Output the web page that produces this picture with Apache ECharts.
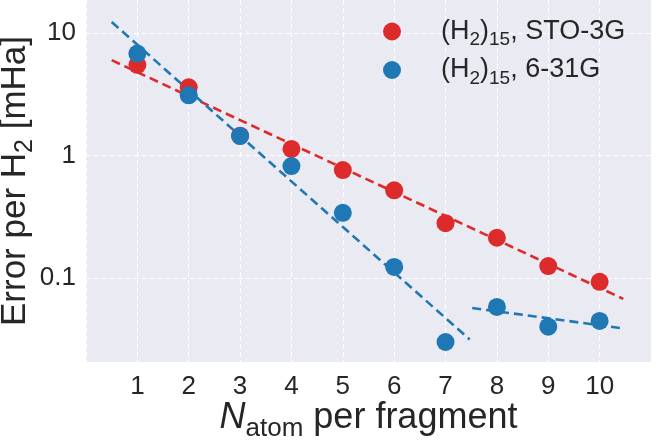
<!DOCTYPE html>
<html>
<head>
<meta charset="utf-8">
<script src="https://cdn.jsdelivr.net/npm/echarts@6/dist/echarts.min.js"></script>
<style>
html,body{margin:0;padding:0;background:#fff;}
#chart{width:658px;height:444px;}
</style>
</head>
<body>
<div id="chart"></div>
<script>
// Data
const nAtom = [1, 2, 3, 4, 5, 6, 7, 8, 9, 10];
const stoValues = [5.5, 3.6, 1.45, 1.13, 0.76, 0.52, 0.28, 0.213, 0.125, 0.093];
const g631Values = [6.8, 3.1, 1.44, 0.82, 0.34, 0.123, 0.030, 0.058, 0.040, 0.0446];
// Fitted dashed lines (endpoints, straight in log space)
const stoFitX = [0.5, 10.46];
const stoFitY = [6.0, 0.0675];
const g631FitAX = [0.5, 7.47];
const g631FitAY = [12.3, 0.0315];
const g631FitBX = [7.52, 10.48];
const g631FitBY = [0.0569, 0.0386];
const xTickLabels = ['1','2','3','4','5','6','7','8','9','10'];
const yTickLabels = ['0.1','1','10'];

const RED = '#dd2a2b';
const BLUE = '#1f77b4';
const TXT = '#262626';
const FONT = '"Liberation Sans", Arial, Helvetica, sans-serif';

function pairs(xs, ys) { return xs.map((x, i) => [x, ys[i]]); }

const chart = echarts.init(document.getElementById('chart'), null, {renderer: 'canvas'});

const option = {
  backgroundColor: '#ffffff',
  animation: false,
  textStyle: {fontFamily: FONT, color: TXT},
  grid: {
    left: 86, right: 7, top: 0, bottom: 82,
    containLabel: false, outerBoundsMode: 'none',
    show: true, backgroundColor: '#eaeaf2', borderWidth: 0
  },
  legend: {
    orient: 'vertical',
    left: 378, top: 13,
    itemWidth: 88, itemHeight: 18, itemGap: 7,
    icon: 'circle',
    data: ['STO-3G', '6-31G'],
    formatter: function (n) { return '{m|(H}{s|2}{m|)}{s|15}{m|, ' + n + '}'; },
    textStyle: {
      fontFamily: FONT, color: TXT, padding: [0,0,0,0],
      rich: {
        m: {fontSize: 27, lineHeight: 28, verticalAlign: 'middle', fontFamily: FONT, color: TXT},
        s: {fontSize: 19, lineHeight: 28, verticalAlign: 'bottom', padding: [0,0,-4,0], fontFamily: FONT, color: TXT}
      }
    }
  },
  xAxis: {
    type: 'value', min: 0, max: 11, interval: 1,
    axisLine: {show: false}, axisTick: {show: false},
    splitLine: {show: true, lineStyle: {color: '#ffffff', width: 1, type: [5, 3]}},
    axisLabel: {
      fontSize: 26, color: TXT, fontFamily: FONT, margin: 12,
      formatter: function (v) { return (v >= 1 && v <= 10) ? xTickLabels[v - 1] : ''; }
    },
    name: '{i|N}{s|atom}{m| per fragment}',
    nameLocation: 'middle', nameGap: 37, nameMoveOverlap: false,
    nameTextStyle: {
      rich: {
        i: {fontSize: 36, fontStyle: 'italic', lineHeight: 38, verticalAlign: 'middle', fontFamily: FONT, color: TXT},
        s: {fontSize: 26, lineHeight: 38, verticalAlign: 'bottom', padding: [0,0,-5,0], fontFamily: FONT, color: TXT},
        m: {fontSize: 36, lineHeight: 38, verticalAlign: 'middle', fontFamily: FONT, color: TXT}
      }
    }
  },
  yAxis: {
    type: 'log', logBase: 10, min: 0.0206, max: 18.6,
    axisLine: {show: false}, axisTick: {show: false},
    splitLine: {show: true, showMinLine: false, showMaxLine: false, lineStyle: {color: '#ffffff', width: 1, type: [5, 3]}},
    minorSplitLine: {show: false},
    axisLabel: {
      fontSize: 26, color: TXT, fontFamily: FONT, margin: 10,
      showMinLabel: false, showMaxLabel: false,
      formatter: function (v) {
        const e = Math.log10(v);
        const r = Math.round(e);
        if (Math.abs(e - r) > 1e-6 || r < -1 || r > 1) return '';
        return yTickLabels[r + 1];
      }
    },
    name: '{m|Error per H}{s|2}{m| [mHa]}',
    nameLocation: 'middle', nameGap: 53, nameMoveOverlap: false,
    nameTextStyle: {
      rich: {
        m: {fontSize: 35, lineHeight: 36, verticalAlign: 'middle', fontFamily: FONT, color: TXT},
        s: {fontSize: 25, lineHeight: 36, verticalAlign: 'bottom', padding: [0,0,-5,0], fontFamily: FONT, color: TXT}
      }
    }
  },
  series: [
    {
      name: 'STO-3G fit', type: 'line', data: pairs(stoFitX, stoFitY),
      showSymbol: false, symbol: 'none', z: 3,
      lineStyle: {color: RED, width: 2.6, type: [9, 5]}, itemStyle: {color: RED}
    },
    {
      name: '6-31G fit A', type: 'line', data: pairs(g631FitAX, g631FitAY),
      showSymbol: false, symbol: 'none', z: 3,
      lineStyle: {color: BLUE, width: 2.6, type: [9, 5]}, itemStyle: {color: BLUE}
    },
    {
      name: '6-31G fit B', type: 'line', data: pairs(g631FitBX, g631FitBY),
      showSymbol: false, symbol: 'none', z: 3,
      lineStyle: {color: BLUE, width: 2.6, type: [9, 5]}, itemStyle: {color: BLUE}
    },
    {
      name: 'STO-3G', type: 'scatter', data: pairs(nAtom, stoValues),
      symbol: 'circle', symbolSize: 18, z: 4,
      itemStyle: {color: RED, opacity: 1}
    },
    {
      name: '6-31G', type: 'scatter', data: pairs(nAtom, g631Values),
      symbol: 'circle', symbolSize: 18, z: 5,
      itemStyle: {color: BLUE, opacity: 1}
    }
  ]
};
chart.setOption(option);
</script>
</body>
</html>
